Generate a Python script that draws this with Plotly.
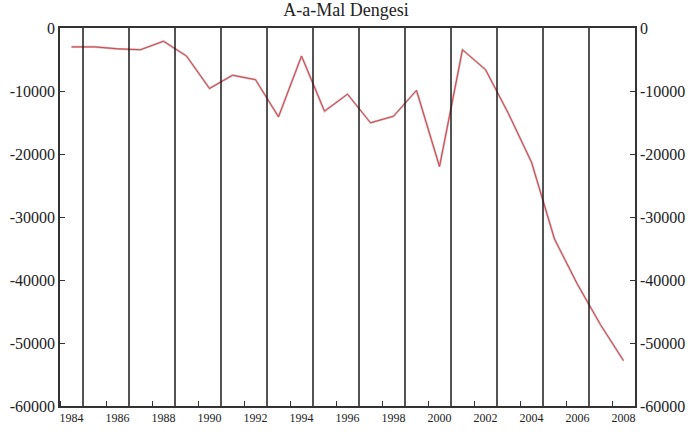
import plotly.graph_objects as go

yillar = list(range(1984, 2009))
denge = [-3000, -3000, -3300, -3450, -2100, -4450, -9600, -7500, -8200, -14100,
         -4450, -13200, -10500, -15050, -14000, -9900, -22000, -3450, -6600, -13600,
         -21300, -33500, -40700, -47100, -52800]

etiket_yillar = yillar[::2]
cizgi_yillar = [y + 0.5 for y in yillar[:-1:2]]
y_tikler = [0, -10000, -20000, -30000, -40000, -50000, -60000]
y_etiketler = ['0', '-10000', '-20000', '-30000', '-40000', '-50000', '-60000']

fig = go.Figure()

# grey shadow under the red series
fig.add_trace(go.Scatter(x=yillar, y=denge, mode='lines',
                         line=dict(color='#bdbdbd', width=2.2), hoverinfo='skip'))
fig.add_trace(go.Scatter(x=yillar, y=denge, mode='lines',
                         line=dict(color='#ee3a44', width=1)))
# dummy trace for the right hand axis
fig.add_trace(go.Scatter(x=yillar, y=denge, yaxis='y2', mode='lines',
                         line=dict(width=0), hoverinfo='skip', opacity=0))

for x in cizgi_yillar:
    fig.add_vline(x=x, line=dict(color='#1a1a1a', width=1.5))

font_ailesi = 'Liberation Serif'

eksen_y = dict(range=[-60000, 0], tickmode='array', tickvals=y_tikler, ticktext=y_etiketler,
               ticks='inside', ticklen=5, tickcolor='#333', showgrid=False,
               zeroline=False, showline=True, linecolor='#333', linewidth=1.5,
               tickfont=dict(size=16), automargin=False)

fig.update_layout(
    width=692, height=433,
    margin=dict(l=60, r=57, t=28, b=27),
    plot_bgcolor='white', paper_bgcolor='white',
    showlegend=False,
    font=dict(family=font_ailesi, color='#222'),
    title=dict(text='A-a-Mal Dengesi', x=0.5, xanchor='center',
               y=0.978, yanchor='middle', font=dict(size=18, color='#222'),
               automargin=False),
    xaxis=dict(range=[1983.5, 2008.5], tickmode='array', tickvals=etiket_yillar,
               ticktext=[str(y) for y in etiket_yillar], ticks='',
               showgrid=False, zeroline=False, showline=True, linecolor='#333',
               linewidth=1.5, mirror=True, tickfont=dict(size=12), automargin=False,
               minor=dict(tickmode='linear', tick0=1983.5, dtick=2, ticks='inside',
                          ticklen=5, tickcolor='#333', showgrid=False)),
    yaxis=eksen_y,
    yaxis2=dict(eksen_y, overlaying='y', side='right'),
)

fig.write_html("out.html", config={'displayModeBar': False},
               post_script="document.body.style.margin='0';")
